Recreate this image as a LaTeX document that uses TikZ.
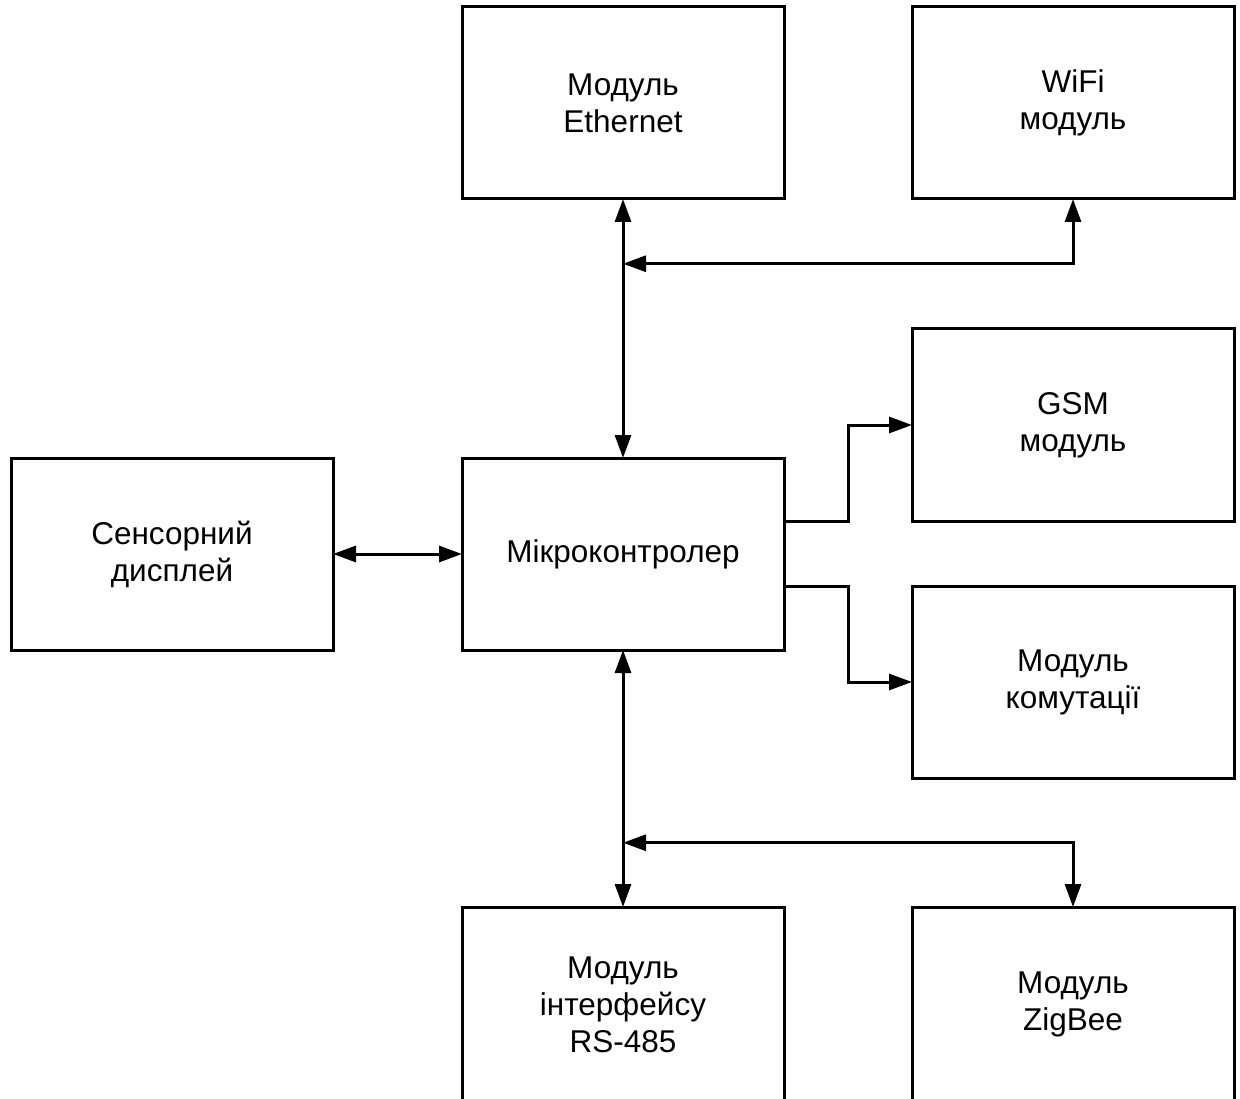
\documentclass[tikz,border=0pt]{standalone}
\usepackage{fontspec}
\setmainfont{Liberation Sans}
\usetikzlibrary{positioning,arrows.meta,calc}

\tikzset{
  block/.style={draw, line width=3pt, minimum width=322pt, minimum height=192pt,
    align=center, inner sep=0pt, outer sep=0pt, font=\fontsize{31.5}{37}\selectfont},
  link/.style={line width=3pt, arrows={Triangle[length=23pt,width=16pt]-Triangle[length=23pt,width=16pt]}},
  tolink/.style={line width=3pt, arrows={-Triangle[length=23pt,width=16pt]}}
}

\begin{document}
\begin{tikzpicture}[x=1pt, y=-1pt]

  \useasboundingbox (0,0) rectangle (1240,1099);

  % Define nodes
  \node[block]                                   (mcu)    at (623,554) {Мікроконтролер};
  \node[block, above=259pt of mcu]                (eth)    {Модуль\\Ethernet};
  \node[block, right=128pt of eth]                (wifi)   {WiFi\\модуль};
  \node[block, left=129pt of mcu]                 (lcd)    {Сенсорний\\дисплей};
  \node[block, right=128pt of mcu, yshift=129pt]  (gsm)    {GSM\\модуль};
  \node[block, right=128pt of mcu, yshift=-128pt] (sw)     {Модуль\\комутації};
  \node[block, below=257pt of mcu, minimum height=195pt] (rs) {Модуль\\інтерфейсу\\RS-485};
  \node[block, right=128pt of rs, minimum height=195pt]  (zig) {Модуль\\ZigBee};

  \coordinate (jtop) at ($(eth.south)!0.25!(mcu.north)$);
  \coordinate (jbot) at ($(mcu.south)!0.75!(rs.north)$);

  % Connect the nodes
  \draw[link] (mcu) -- (eth);
  \draw[link] (jtop) -| (wifi.south);
  \draw[link] (lcd) -- (mcu);
  \draw[tolink] ([yshift=33pt]mcu.east) -- ++(64,0) |- (gsm.west);
  \draw[tolink] ([yshift=-32pt]mcu.east) -- ++(64,0) |- (sw.west);
  \draw[link] (mcu) -- (rs);
  \draw[link] (jbot) -| (zig.north);

\end{tikzpicture}
\end{document}
